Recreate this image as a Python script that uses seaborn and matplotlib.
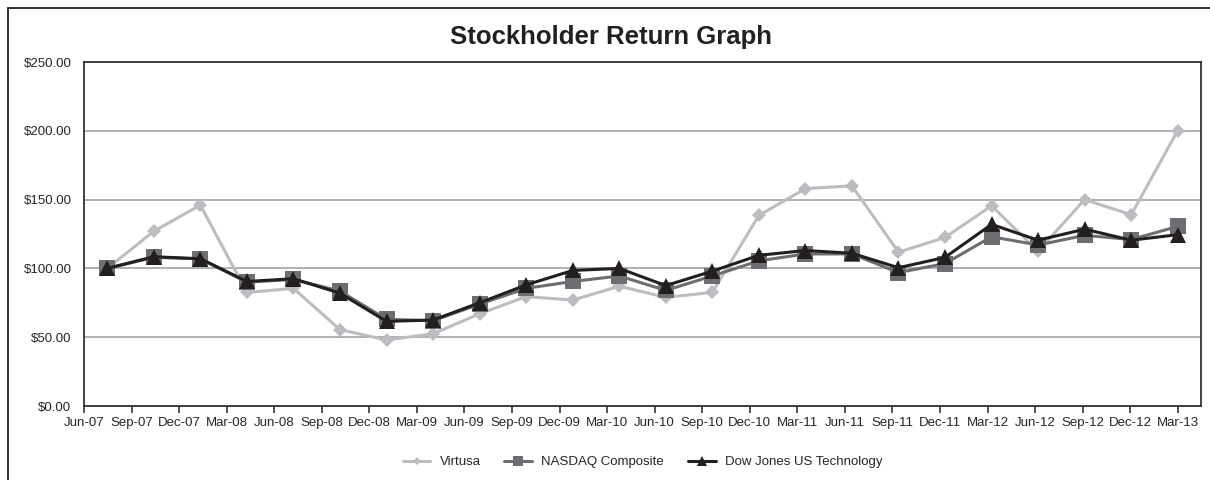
import matplotlib
matplotlib.use("Agg")
import matplotlib.pyplot as plt
import matplotlib.patches as mpatches
from matplotlib.ticker import FuncFormatter
import numpy as np
import pandas as pd
import seaborn as sns

# quarter labels
quarters = ["Jun-07", "Sep-07", "Dec-07", "Mar-08", "Jun-08", "Sep-08", "Dec-08", "Mar-09",
            "Jun-09", "Sep-09", "Dec-09", "Mar-10", "Jun-10", "Sep-10", "Dec-10", "Mar-11",
            "Jun-11", "Sep-11", "Dec-11", "Mar-12", "Jun-12", "Sep-12", "Dec-12", "Mar-13"]

virtusa = [100, 127, 146, 82.5, 85.5, 55.5, 48, 52.5, 67, 79.5, 77, 87,
           79, 82.5, 138.5, 158, 160, 111.8, 122.5, 145.5, 112.5, 150, 139, 200.2]
nasdaq = [100, 108, 107, 90, 92, 83.5, 63, 62, 74, 85.5, 90.5, 94.5,
          84, 94.5, 105.5, 110.5, 110.5, 97, 103.5, 123, 117, 124, 121, 130.5]
dow_tech = [100, 108.5, 107, 90.5, 92.5, 82, 61.5, 62.5, 75, 88, 98.5, 100,
            87.5, 98, 109.5, 113, 111, 100.5, 108, 132, 120.5, 128.5, 120.5, 124.5]

series_names = ["Virtusa", "NASDAQ Composite", "Dow Jones US Technology"]
series_colors = ["#BCBDC0", "#6D6E71", "#231F20"]
series_markers = ["D", "s", "^"]
marker_sizes = [7.5, 11.5, 11]

df = pd.DataFrame({"quarter": quarters, "idx": np.arange(len(quarters)),
                   "Virtusa": virtusa, "NASDAQ Composite": nasdaq,
                   "Dow Jones US Technology": dow_tech})

sns.set_style("white")
plt.rcParams["font.family"] = ["Liberation Sans", "DejaVu Sans"]

fig = plt.figure(figsize=(12.1, 4.8), dpi=100)
ax = fig.add_axes([84 / 1210, 1 - 406 / 480, (1201 - 84) / 1210, (406 - 62) / 480])

for name, col, mk, ms in zip(series_names, series_colors, series_markers, marker_sizes):
    sns.lineplot(data=df, x="idx", y=name, ax=ax, color=col, marker=mk, markersize=ms,
                 markeredgewidth=0, linewidth=2.2, label=name)

ax.set_xlim(-0.5, len(quarters) - 0.5)
ax.set_ylim(0, 250)
ax.set_yticks([0, 50, 100, 150, 200, 250])
ax.yaxis.set_major_formatter(FuncFormatter(lambda v, p: f"${v:,.2f}"))
ax.set_xticks(np.linspace(-0.5, len(quarters) - 1, len(quarters)))
ax.set_xticklabels(quarters)
ax.set_xlabel("")
ax.set_ylabel("")
ax.tick_params(axis="x", direction="out", length=5, width=1.2, color="#333333",
               labelsize=9.5, pad=3, bottom=True)
ax.tick_params(axis="y", length=0, labelsize=9.5, pad=9)
ax.yaxis.grid(True, color="#A7A9AC", linewidth=1.3)
ax.set_axisbelow(True)
for sp in ax.spines.values():
    sp.set_color("#333333")
    sp.set_linewidth(1.3)

ax.legend(loc="center", bbox_to_anchor=(0.5, -0.163), ncol=3, frameon=False,
          fontsize=9.5, handlelength=2.1, handletextpad=0.7, columnspacing=1.8,
          markerscale=0.6)

fig.text(0.505, 1 - 37 / 480, "Stockholder Return Graph", ha="center", va="center",
         fontsize=18.5, fontweight="bold", color="#231F20")

# outer chart frame
frame = mpatches.Rectangle((8 / 1210, -0.05), 1.1, 1 - 8 / 480 + 0.05, transform=fig.transFigure,
                           fill=False, edgecolor="#231F20", linewidth=1.3, clip_on=False)
fig.patches.append(frame)

fig.savefig("out.png", dpi=100)
